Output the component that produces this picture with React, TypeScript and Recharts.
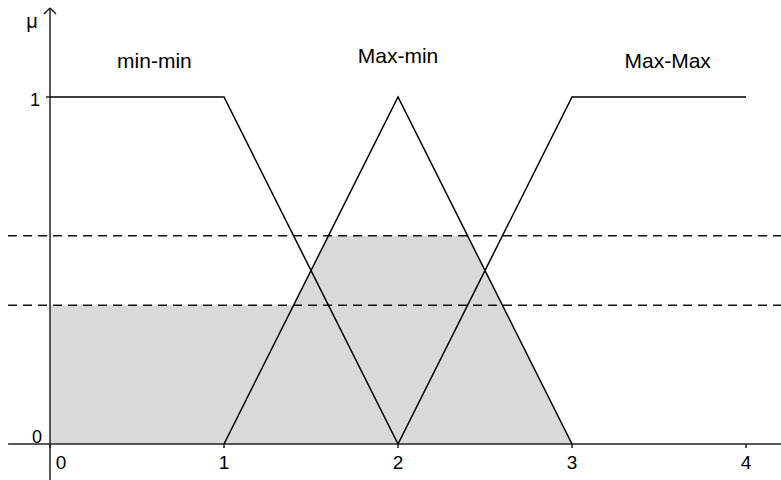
import {
  ComposedChart,
  Line,
  Area,
  XAxis,
  YAxis,
  ReferenceLine,
  ReferenceDot,
} from 'recharts';

// membership functions (x, mu)
const minMinX = [0, 1, 2];
const minMinY = [1, 1, 0];
const maxMinX = [1, 2, 3];
const maxMinY = [0, 1, 0];
const maxMaxX = [2, 3, 4];
const maxMaxY = [0, 1, 1];

// shaded (clipped) region
const shadeX = [0, 1.4, 1.6, 2.4, 3];
const shadeY = [0.4, 0.4, 0.6, 0.6, 0];

// dashed cut levels
const cutLevels = [0.4, 0.6];

const xTicks = [0, 1, 2, 3, 4];
const yTickLabels = ['0', '1'];

const curveNames = ['min-min', 'Max-min', 'Max-Max'];
const curveNameX = [0.6, 2.0, 3.55];
const curveNameY = [1.084, 1.098, 1.084];

const toPoints = (xs: number[], ys: number[]) => xs.map((x, i) => ({ x, y: ys[i] }));

const minMin = toPoints(minMinX, minMinY);
const maxMin = toPoints(maxMinX, maxMinY);
const maxMax = toPoints(maxMaxX, maxMaxY);
const shade = toPoints(shadeX, shadeY);

// visible extent of the plot (data units)
const X_MIN = -0.2874;
const X_MAX = 4.2011;
const Y_MAX = 1.2795;
const LINE_LEFT = -0.241;
const AXIS_BOTTOM = -0.1037;
const AXIS_TOP = 1.2565;

const FONT = '"Liberation Sans", Arial, sans-serif';
const AXIS_COLOR = '#222';

const XTick = (props: any) => {
  const { x, y, payload } = props;
  return (
    <text
      x={x + (payload.value === 0 ? 11 : 0)}
      y={y + 19}
      textAnchor="middle"
      fontFamily={FONT}
      fontSize={19}
      fill="#000"
    >
      {payload.value}
    </text>
  );
};

const textAt = (text: string, dx: number, dy: number, size: number, anchor: string) =>
  (props: any) => {
    const { viewBox } = props;
    return (
      <text
        x={viewBox.x + dx}
        y={viewBox.y + dy}
        textAnchor={anchor}
        fontFamily={FONT}
        fontSize={size}
        fill="#000"
      >
        {text}
      </text>
    );
  };

export default function App() {
  return (
    <div style={{ width: 781, height: 480 }}>
      <style>{`body{margin:0}`}</style>
      <ComposedChart width={781} height={480} margin={{ top: 0, right: 0, left: 0, bottom: 0 }}>
        <XAxis
          type="number"
          dataKey="x"
          domain={[X_MIN, X_MAX]}
          allowDataOverflow
          ticks={xTicks}
          interval={0}
          height={36}
          axisLine={false}
          tickLine={{ stroke: AXIS_COLOR, strokeWidth: 1.5 }}
          tickSize={4}
          tickMargin={2}
          tick={<XTick />}
        />
        <YAxis type="number" dataKey="y" hide domain={[0, Y_MAX]} allowDataOverflow />

        <Area
          data={shade}
          dataKey="y"
          type="linear"
          fill="#d9d9d9"
          fillOpacity={1}
          stroke="none"
          baseValue={0}
          dot={false}
          activeDot={false}
          isAnimationActive={false}
        />

        {cutLevels.map((lv) => (
          <ReferenceLine
            key={lv}
            segment={[
              { x: LINE_LEFT, y: lv },
              { x: X_MAX, y: lv },
            ]}
            stroke="#111"
            strokeWidth={1.5}
            strokeDasharray="9 6"
            ifOverflow="visible"
          />
        ))}

        {/* axes */}
        <ReferenceLine
          segment={[
            { x: LINE_LEFT, y: 0 },
            { x: X_MAX, y: 0 },
          ]}
          stroke={AXIS_COLOR}
          strokeWidth={1.5}
          ifOverflow="visible"
        />
        <ReferenceLine
          segment={[
            { x: 0, y: AXIS_BOTTOM },
            { x: 0, y: AXIS_TOP },
          ]}
          stroke={AXIS_COLOR}
          strokeWidth={1.5}
          ifOverflow="visible"
        />
        <ReferenceLine
          segment={[
            { x: -0.0345, y: AXIS_TOP - 0.0173 },
            { x: 0, y: AXIS_TOP },
          ]}
          stroke={AXIS_COLOR}
          strokeWidth={1.5}
          ifOverflow="visible"
        />
        <ReferenceLine
          segment={[
            { x: 0.0345, y: AXIS_TOP - 0.0173 },
            { x: 0, y: AXIS_TOP },
          ]}
          stroke={AXIS_COLOR}
          strokeWidth={1.5}
          ifOverflow="visible"
        />
        <ReferenceLine
          segment={[
            { x: -0.023, y: 1 },
            { x: 0, y: 1 },
          ]}
          stroke={AXIS_COLOR}
          strokeWidth={1.5}
          ifOverflow="visible"
        />

        <Line data={minMin} dataKey="y" type="linear" stroke="#000" strokeWidth={1.5} dot={false} activeDot={false} isAnimationActive={false} />
        <Line data={maxMin} dataKey="y" type="linear" stroke="#000" strokeWidth={1.5} dot={false} activeDot={false} isAnimationActive={false} />
        <Line data={maxMax} dataKey="y" type="linear" stroke="#000" strokeWidth={1.5} dot={false} activeDot={false} isAnimationActive={false} />

        {/* y tick labels and axis name */}
        <ReferenceDot x={0} y={0} r={0} stroke="none" ifOverflow="visible" label={textAt(yTickLabels[0], -8, -1, 18, 'end')} />
        <ReferenceDot x={0} y={1} r={0} stroke="none" ifOverflow="visible" label={textAt(yTickLabels[1], -10, 9, 18, 'end')} />
        <ReferenceDot x={0} y={AXIS_TOP} r={0} stroke="none" ifOverflow="visible" label={textAt('μ', -18, 20, 20, 'middle')} />

        {curveNames.map((name, i) => (
          <ReferenceDot
            key={name}
            x={curveNameX[i]}
            y={curveNameY[i]}
            r={0}
            stroke="none"
            ifOverflow="visible"
            label={textAt(name, 0, 0, 21, 'middle')}
          />
        ))}
      </ComposedChart>
    </div>
  );
}
